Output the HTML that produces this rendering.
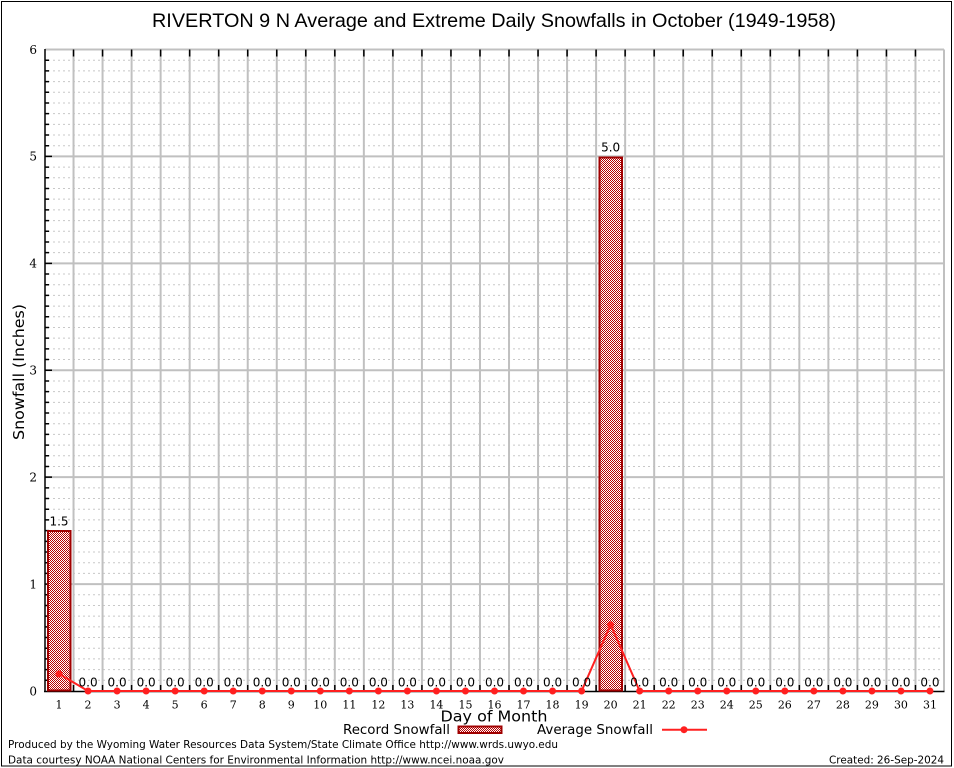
<!DOCTYPE html>
<html><head><meta charset="utf-8"><style>
html,body{margin:0;padding:0;background:#fff;}
svg{display:block;}
</style></head><body>
<svg width="954" height="768" viewBox="0 0 954 768" xmlns="http://www.w3.org/2000/svg">
<defs>
<pattern id="hp" width="2" height="2" patternUnits="userSpaceOnUse">
<rect width="2" height="2" fill="#ffffff"/>
<rect width="1" height="1" fill="#b80000"/>
<rect x="1" y="1" width="1" height="1" fill="#b80000"/>
</pattern>
</defs>
<rect x="0" y="0" width="954" height="768" fill="#fff"/>
<rect x="1.5" y="1.5" width="950" height="764.5" fill="none" stroke="#000" stroke-width="1"/>

<!-- minor dashed grid -->
<path fill="none" stroke="#c8c8c8" stroke-width="1" stroke-dasharray="2,3" d="M48 680.31H944M48 669.62H944M48 658.92H944M48 648.23H944M48 637.54H944M48 626.85H944M48 616.16H944M48 605.47H944M48 594.77H944M48 573.39H944M48 562.70H944M48 552.01H944M48 541.32H944M48 530.62H944M48 519.93H944M48 509.24H944M48 498.55H944M48 487.86H944M48 466.47H944M48 455.78H944M48 445.09H944M48 434.40H944M48 423.71H944M48 413.02H944M48 402.32H944M48 391.63H944M48 380.94H944M48 359.56H944M48 348.87H944M48 338.17H944M48 327.48H944M48 316.79H944M48 306.10H944M48 295.41H944M48 284.72H944M48 274.02H944M48 252.64H944M48 241.95H944M48 231.26H944M48 220.57H944M48 209.87H944M48 199.18H944M48 188.49H944M48 177.80H944M48 167.11H944M48 145.72H944M48 135.03H944M48 124.34H944M48 113.65H944M48 102.96H944M48 92.27H944M48 81.57H944M48 70.88H944M48 60.19H944"/>

<!-- major horizontal grid -->
<path fill="none" stroke="#c0c0c0" stroke-width="2" d="M45 584.08H944M45 477.17H944M45 370.25H944M45 263.33H944M45 156.42H944M45 49.5H944"/>

<!-- vertical grid -->
<path fill="none" stroke="#c0c0c0" stroke-width="2" d="M73.53 49.5V691M102.56 49.5V691M131.60 49.5V691M160.63 49.5V691M189.66 49.5V691M218.69 49.5V691M247.73 49.5V691M276.76 49.5V691M305.79 49.5V691M334.82 49.5V691M363.85 49.5V691M392.89 49.5V691M421.92 49.5V691M450.95 49.5V691M479.98 49.5V691M509.02 49.5V691M538.05 49.5V691M567.08 49.5V691M596.11 49.5V691M625.15 49.5V691M654.18 49.5V691M683.21 49.5V691M712.24 49.5V691M741.27 49.5V691M770.31 49.5V691M799.34 49.5V691M828.37 49.5V691M857.40 49.5V691M886.44 49.5V691M915.47 49.5V691M944 49.5V691"/>

<!-- top ticks -->
<path fill="none" stroke="#000" stroke-width="1.5" d="M73.53 49.5v7M102.56 49.5v7M131.60 49.5v7M160.63 49.5v7M189.66 49.5v7M218.69 49.5v7M247.73 49.5v7M276.76 49.5v7M305.79 49.5v7M334.82 49.5v7M363.85 49.5v7M392.89 49.5v7M421.92 49.5v7M450.95 49.5v7M479.98 49.5v7M509.02 49.5v7M538.05 49.5v7M567.08 49.5v7M596.11 49.5v7M625.15 49.5v7M654.18 49.5v7M683.21 49.5v7M712.24 49.5v7M741.27 49.5v7M770.31 49.5v7M799.34 49.5v7M828.37 49.5v7M857.40 49.5v7M886.44 49.5v7M915.47 49.5v7"/>
<!-- bottom ticks -->
<path fill="none" stroke="#000" stroke-width="1.5" d="M73.53 691v-6M102.56 691v-6M131.60 691v-6M160.63 691v-6M189.66 691v-6M218.69 691v-6M247.73 691v-6M276.76 691v-6M305.79 691v-6M334.82 691v-6M363.85 691v-6M392.89 691v-6M421.92 691v-6M450.95 691v-6M479.98 691v-6M509.02 691v-6M538.05 691v-6M567.08 691v-6M596.11 691v-6M625.15 691v-6M654.18 691v-6M683.21 691v-6M712.24 691v-6M741.27 691v-6M770.31 691v-6M799.34 691v-6M828.37 691v-6M857.40 691v-6M886.44 691v-6M915.47 691v-6"/>
<!-- left minor ticks -->
<path fill="none" stroke="#000" stroke-width="1.5" d="M45 680.31h4M45 669.62h4M45 658.92h4M45 648.23h4M45 637.54h4M45 626.85h4M45 616.16h4M45 605.47h4M45 594.77h4M45 584.08h7M45 573.39h4M45 562.70h4M45 552.01h4M45 541.32h4M45 530.62h4M45 519.93h4M45 509.24h4M45 498.55h4M45 487.86h4M45 477.17h7M45 466.47h4M45 455.78h4M45 445.09h4M45 434.40h4M45 423.71h4M45 413.02h4M45 402.32h4M45 391.63h4M45 380.94h4M45 370.25h7M45 359.56h4M45 348.87h4M45 338.17h4M45 327.48h4M45 316.79h4M45 306.10h4M45 295.41h4M45 284.72h4M45 274.02h4M45 263.33h7M45 252.64h4M45 241.95h4M45 231.26h4M45 220.57h4M45 209.87h4M45 199.18h4M45 188.49h4M45 177.80h4M45 167.11h4M45 156.42h7M45 145.72h4M45 135.03h4M45 124.34h4M45 113.65h4M45 102.96h4M45 92.27h4M45 81.57h4M45 70.88h4M45 60.19h4"/>

<!-- axes -->
<line x1="45" y1="49" x2="45" y2="692" stroke="#000" stroke-width="1.5"/>
<line x1="44" y1="691.5" x2="944.5" y2="691.5" stroke="#000" stroke-width="1.5"/>

<!-- bars -->
<rect x="48" y="531" width="22.5" height="159.5" fill="url(#hp)" stroke="#a00000" stroke-width="2"/>
<rect x="599.5" y="157.5" width="22.5" height="533" fill="url(#hp)" stroke="#a00000" stroke-width="2"/>

<!-- average line -->
<polyline fill="none" stroke="#ff2020" stroke-width="2" points="59.02,673.9 88.05,691 581.60,691 610.63,624.7 639.66,691 929.98,691"/>
<g fill="#ff2020">
<circle cx="59.02" cy="673.9" r="3.5"/><circle cx="88.05" cy="691" r="3.5"/><circle cx="117.08" cy="691" r="3.5"/><circle cx="146.11" cy="691" r="3.5"/><circle cx="175.15" cy="691" r="3.5"/><circle cx="204.18" cy="691" r="3.5"/><circle cx="233.21" cy="691" r="3.5"/><circle cx="262.24" cy="691" r="3.5"/><circle cx="291.27" cy="691" r="3.5"/><circle cx="320.31" cy="691" r="3.5"/><circle cx="349.34" cy="691" r="3.5"/><circle cx="378.37" cy="691" r="3.5"/><circle cx="407.40" cy="691" r="3.5"/><circle cx="436.44" cy="691" r="3.5"/><circle cx="465.47" cy="691" r="3.5"/><circle cx="494.50" cy="691" r="3.5"/><circle cx="523.53" cy="691" r="3.5"/><circle cx="552.56" cy="691" r="3.5"/><circle cx="581.60" cy="691" r="3.5"/><circle cx="610.63" cy="624.7" r="3.5"/><circle cx="639.66" cy="691" r="3.5"/><circle cx="668.69" cy="691" r="3.5"/><circle cx="697.73" cy="691" r="3.5"/><circle cx="726.76" cy="691" r="3.5"/><circle cx="755.79" cy="691" r="3.5"/><circle cx="784.82" cy="691" r="3.5"/><circle cx="813.85" cy="691" r="3.5"/><circle cx="842.89" cy="691" r="3.5"/><circle cx="871.92" cy="691" r="3.5"/><circle cx="900.95" cy="691" r="3.5"/><circle cx="929.98" cy="691" r="3.5"/>
</g>

<!-- value labels -->
<g font-family="'DejaVu Sans','Liberation Sans',sans-serif" font-size="12" fill="#000" text-anchor="middle">
<text x="59.02" y="525.5">1.5</text>
<text x="610.63" y="151.5">5.0</text>
<text x="88.05" y="686.5">0.0</text><text x="117.08" y="686.5">0.0</text><text x="146.11" y="686.5">0.0</text><text x="175.15" y="686.5">0.0</text><text x="204.18" y="686.5">0.0</text><text x="233.21" y="686.5">0.0</text><text x="262.24" y="686.5">0.0</text><text x="291.27" y="686.5">0.0</text><text x="320.31" y="686.5">0.0</text><text x="349.34" y="686.5">0.0</text><text x="378.37" y="686.5">0.0</text><text x="407.40" y="686.5">0.0</text><text x="436.44" y="686.5">0.0</text><text x="465.47" y="686.5">0.0</text><text x="494.50" y="686.5">0.0</text><text x="523.53" y="686.5">0.0</text><text x="552.56" y="686.5">0.0</text><text x="581.60" y="686.5">0.0</text><text x="639.66" y="686.5">0.0</text><text x="668.69" y="686.5">0.0</text><text x="697.73" y="686.5">0.0</text><text x="726.76" y="686.5">0.0</text><text x="755.79" y="686.5">0.0</text><text x="784.82" y="686.5">0.0</text><text x="813.85" y="686.5">0.0</text><text x="842.89" y="686.5">0.0</text><text x="871.92" y="686.5">0.0</text><text x="900.95" y="686.5">0.0</text><text x="929.98" y="686.5">0.0</text>
</g>

<!-- x tick labels -->
<g font-family="'DejaVu Serif','Liberation Serif',serif" font-size="11" fill="#000" text-anchor="middle">
<text x="59.02" y="708.5">1</text><text x="88.05" y="708.5">2</text><text x="117.08" y="708.5">3</text><text x="146.11" y="708.5">4</text><text x="175.15" y="708.5">5</text><text x="204.18" y="708.5">6</text><text x="233.21" y="708.5">7</text><text x="262.24" y="708.5">8</text><text x="291.27" y="708.5">9</text><text x="320.31" y="708.5">10</text><text x="349.34" y="708.5">11</text><text x="378.37" y="708.5">12</text><text x="407.40" y="708.5">13</text><text x="436.44" y="708.5">14</text><text x="465.47" y="708.5">15</text><text x="494.50" y="708.5">16</text><text x="523.53" y="708.5">17</text><text x="552.56" y="708.5">18</text><text x="581.60" y="708.5">19</text><text x="610.63" y="708.5">20</text><text x="639.66" y="708.5">21</text><text x="668.69" y="708.5">22</text><text x="697.73" y="708.5">23</text><text x="726.76" y="708.5">24</text><text x="755.79" y="708.5">25</text><text x="784.82" y="708.5">26</text><text x="813.85" y="708.5">27</text><text x="842.89" y="708.5">28</text><text x="871.92" y="708.5">29</text><text x="900.95" y="708.5">30</text><text x="929.98" y="708.5">31</text>
</g>

<!-- y tick labels -->
<g font-family="'DejaVu Serif','Liberation Serif',serif" font-size="12" fill="#000" text-anchor="end">
<text x="37" y="695.5">0</text><text x="37" y="588.5">1</text><text x="37" y="481.5">2</text><text x="37" y="374.5">3</text><text x="37" y="267.5">4</text><text x="37" y="160.5">5</text><text x="37" y="54">6</text>
</g>

<!-- title -->
<text x="494" y="27" font-family="'Liberation Sans',sans-serif" font-size="19" text-anchor="middle" textLength="684" lengthAdjust="spacingAndGlyphs" fill="#000">RIVERTON 9 N Average and Extreme Daily Snowfalls in October (1949-1958)</text>

<!-- axis titles -->
<text x="0" y="0" transform="translate(24,372) rotate(-90)" font-family="'DejaVu Sans','Liberation Sans',sans-serif" font-size="15" text-anchor="middle" textLength="136" lengthAdjust="spacingAndGlyphs" fill="#000">Snowfall (Inches)</text>
<text x="494" y="721.5" font-family="'DejaVu Sans','Liberation Sans',sans-serif" font-size="15.5" text-anchor="middle" textLength="107" lengthAdjust="spacingAndGlyphs" fill="#000">Day of Month</text>

<!-- legend -->
<g font-family="'DejaVu Sans','Liberation Sans',sans-serif" font-size="13" fill="#000">
<text x="343" y="734" textLength="107" lengthAdjust="spacingAndGlyphs">Record Snowfall</text>
<text x="537" y="734" textLength="116" lengthAdjust="spacingAndGlyphs">Average Snowfall</text>
</g>
<rect x="458.5" y="726.5" width="43" height="6.5" fill="url(#hp)" stroke="#a00000" stroke-width="2"/>
<line x1="662" y1="729.7" x2="707" y2="729.7" stroke="#ff2020" stroke-width="2"/>
<circle cx="684" cy="729.7" r="3.5" fill="#ff2020"/>

<!-- footer -->
<g font-family="'DejaVu Sans','Liberation Sans',sans-serif" font-size="11" fill="#000">
<text x="8" y="748" textLength="550" lengthAdjust="spacingAndGlyphs">Produced by the Wyoming Water Resources Data System/State Climate Office http://www.wrds.uwyo.edu</text>
<text x="8" y="763.5" textLength="496" lengthAdjust="spacingAndGlyphs">Data courtesy NOAA National Centers for Environmental Information http://www.ncei.noaa.gov</text>
<text x="944" y="763.5" text-anchor="end" textLength="115" lengthAdjust="spacingAndGlyphs">Created: 26-Sep-2024</text>
</g>
</svg>
</body></html>
